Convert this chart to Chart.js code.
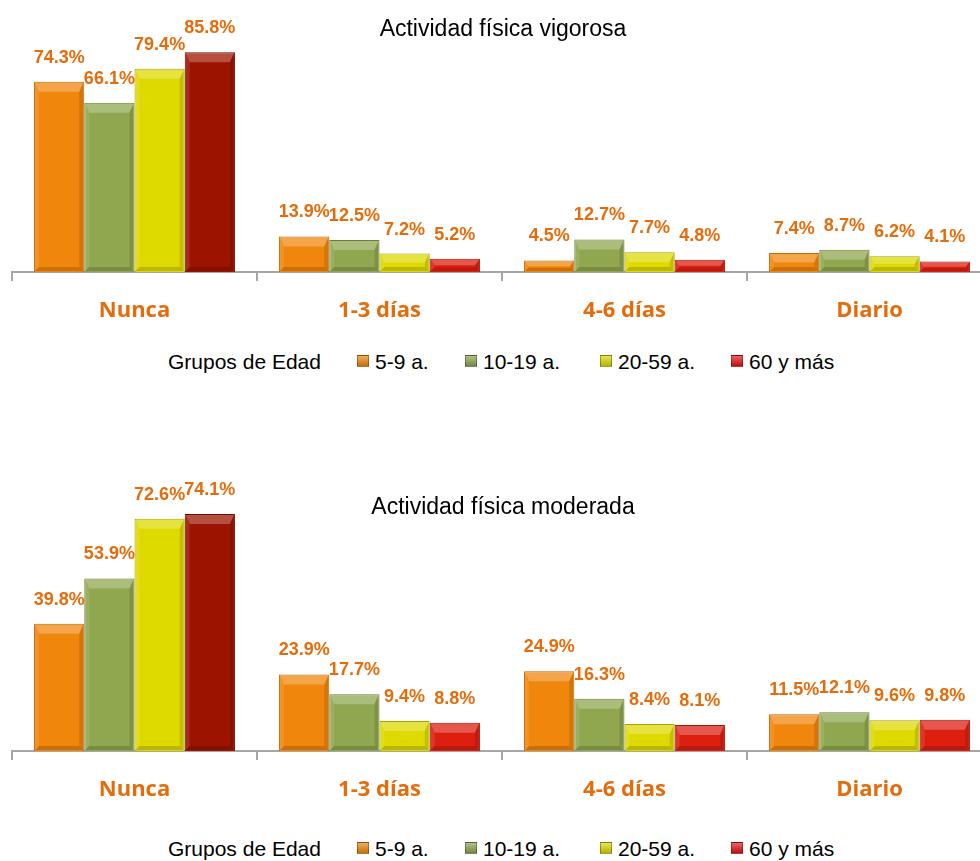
<!DOCTYPE html>
<html>
<head>
<meta charset="utf-8">
<script src="https://cdn.jsdelivr.net/npm/chart.js@4.4.1/dist/chart.umd.min.js"></script>
<style>
  html, body { margin: 0; padding: 0; background: #fff; width: 980px; height: 861px; overflow: hidden; }
  .caja { position: absolute; left: 0; width: 1000px; }
  .leyenda { position: absolute; left: 0; width: 980px; height: 30px; font-family: "Liberation Sans", Arial, sans-serif; font-size: 21px; color: #000; }
  .leyenda span { position: absolute; top: 0; line-height: 30px; white-space: nowrap; }
  .leyenda i { position: absolute; top: 8px; width: 12px; height: 12px; box-sizing: border-box; }
</style>
</head>
<body>

<div class="caja" style="top:0px;height:321px;"><canvas id="chart1"></canvas></div>
<div class="leyenda" id="ley1" style="top:347px;"></div>

<div class="caja" style="top:400px;height:400px;"><canvas id="chart2"></canvas></div>
<div class="leyenda" id="ley2" style="top:834px;"></div>

<script>
var categorias = ["Nunca", "1-3 días", "4-6 días", "Diario"];
var grupos = ["5-9 a.", "10-19 a.", "20-59 a.", "60 y más"];

// Actividad física vigorosa (%)
var vig_5_9 = [74.3, 13.9, 4.5, 7.4];
var vig_10_19 = [66.1, 12.5, 12.7, 8.7];
var vig_20_59 = [79.4, 7.2, 7.7, 6.2];
var vig_60 = [85.8, 5.2, 4.8, 4.1];

// Actividad física moderada (%)
var mod_5_9 = [39.8, 23.9, 24.9, 11.5];
var mod_10_19 = [53.9, 17.7, 16.3, 12.1];
var mod_20_59 = [72.6, 9.4, 8.4, 9.6];
var mod_60 = [74.1, 8.8, 8.1, 9.8];

var naranja = "#E46C0A";
var fondos = [
  ["#F0860C", "#F0860C", "#F0860C", "#F0860C"],
  ["#8FA74F", "#8FA74F", "#8FA74F", "#8FA74F"],
  ["#DEDA00", "#DEDA00", "#DEDA00", "#DEDA00"],
  ["#9C1400", "#DD1F10", "#DD1F10", "#DD1F10"]
];
var bordes = [
  ["#C46800", "#C46800", "#C46800", "#C46800"],
  ["#6B7F3A", "#6B7F3A", "#6B7F3A", "#6B7F3A"],
  ["#A8A400", "#A8A400", "#A8A400", "#A8A400"],
  ["#6A0E00", "#A51508", "#A51508", "#A51508"]
];
var colLeyenda = ["#E8820A", "#86A04A", "#D8D400", "#E01010"];

// biselado de las barras y etiquetas de porcentaje
var pluginBarras = {
  id: "barras",
  afterDatasetsDraw: function(chart) {
    var ctx = chart.ctx;
    chart.data.datasets.forEach(function(ds, i) {
      var meta = chart.getDatasetMeta(i);
      meta.data.forEach(function(bar, j) {
        var x0 = bar.x - bar.width / 2 + 1, x1 = bar.x + bar.width / 2 - 1;
        var top = bar.y + 1, bot = bar.base - 1;
        var h = bot - top;
        var bt = Math.min(9, h / 2), bs = Math.min(4, h / 3), bb = Math.min(4, h / 3);
        ctx.save();
        ctx.fillStyle = "rgba(255,255,255,0.25)";
        ctx.beginPath();
        ctx.moveTo(x0, top); ctx.lineTo(x1, top); ctx.lineTo(x1 - bs, top + bt); ctx.lineTo(x0 + bs, top + bt);
        ctx.closePath(); ctx.fill();
        ctx.fillStyle = "rgba(255,255,255,0.10)";
        ctx.beginPath();
        ctx.moveTo(x0, top); ctx.lineTo(x0 + bs, top + bt); ctx.lineTo(x0 + bs, bot - bb); ctx.lineTo(x0, bot);
        ctx.closePath(); ctx.fill();
        ctx.fillStyle = "rgba(0,0,0,0.12)";
        ctx.beginPath();
        ctx.moveTo(x1, top); ctx.lineTo(x1 - bs, top + bt); ctx.lineTo(x1 - bs, bot - bb); ctx.lineTo(x1, bot);
        ctx.closePath(); ctx.fill();
        ctx.fillStyle = "rgba(0,0,0,0.16)";
        ctx.beginPath();
        ctx.moveTo(x0, bot); ctx.lineTo(x0 + bs, bot - bb); ctx.lineTo(x1 - bs, bot - bb); ctx.lineTo(x1, bot);
        ctx.closePath(); ctx.fill();

        ctx.fillStyle = naranja;
        ctx.font = "bold 18px 'Liberation Sans', Arial, sans-serif";
        ctx.textAlign = "center";
        ctx.textBaseline = "middle";
        ctx.fillText(ds.data[j].toFixed(1) + "%", bar.x, bar.y - 24);
        ctx.restore();
      });
    });
  }
};

var pluginTitulo = {
  id: "tituloDentro",
  afterDraw: function(chart) {
    var o = chart.options.plugins.tituloDentro;
    var ctx = chart.ctx;
    ctx.save();
    ctx.fillStyle = "#000";
    ctx.font = "23px 'Liberation Sans', Arial, sans-serif";
    ctx.textAlign = "center";
    ctx.textBaseline = "middle";
    ctx.fillText(o.texto, 503, o.y);
    ctx.restore();
  }
};

function crearGrafico(id, titulo, tituloY, padTop, series) {
  return new Chart(document.getElementById(id), {
    type: "bar",
    data: {
      labels: categorias,
      datasets: series.map(function(s, i) {
        return {
          label: grupos[i],
          data: s,
          backgroundColor: fondos[i],
          borderColor: bordes[i],
          borderWidth: 1,
          barPercentage: 1,
          categoryPercentage: 0.82
        };
      })
    },
    options: {
      responsive: true,
      maintainAspectRatio: false,
      animation: false,
      layout: { padding: { left: 12, right: 8, top: padTop, bottom: 0 } },
      plugins: {
        legend: { display: false },
        tooltip: { enabled: false },
        tituloDentro: { texto: titulo, y: tituloY }
      },
      scales: {
        y: { display: false, min: 0, max: 100 },
        x: {
          afterFit: function(scale) { scale.height = 49; },
          grid: { offset: true, drawOnChartArea: false, color: "#A6A6A6", tickLength: 9, lineWidth: 2 },
          border: { display: true, color: "#A6A6A6", width: 2 },
          ticks: {
            color: naranja,
            padding: 17,
            font: { family: "'Open Sans', sans-serif", size: 22, weight: "bold" }
          }
        }
      }
    },
    plugins: [pluginBarras, pluginTitulo]
  });
}

function crearLeyenda(id) {
  var el = document.getElementById(id);
  var html = '<span style="left:168px">Grupos de Edad</span>';
  var marcas = [357, 465, 600, 731];
  var textos = [375, 483, 618, 749];
  for (var i = 0; i < grupos.length; i++) {
    html += '<i style="left:' + marcas[i] + 'px;background:linear-gradient(to bottom,rgba(255,255,255,0.35),rgba(0,0,0,0.15)),' + colLeyenda[i] + ';border:1px solid rgba(0,0,0,0.3)"></i>';
    html += '<span style="left:' + textos[i] + 'px">' + grupos[i] + '</span>';
  }
  el.innerHTML = html;
}

crearGrafico("chart1", "Actividad física vigorosa", 30, 16, [vig_5_9, vig_10_19, vig_20_59, vig_60]);
crearGrafico("chart2", "Actividad física moderada", 108, 31, [mod_5_9, mod_10_19, mod_20_59, mod_60]);
crearLeyenda("ley1");
crearLeyenda("ley2");
</script>
</body>
</html>
